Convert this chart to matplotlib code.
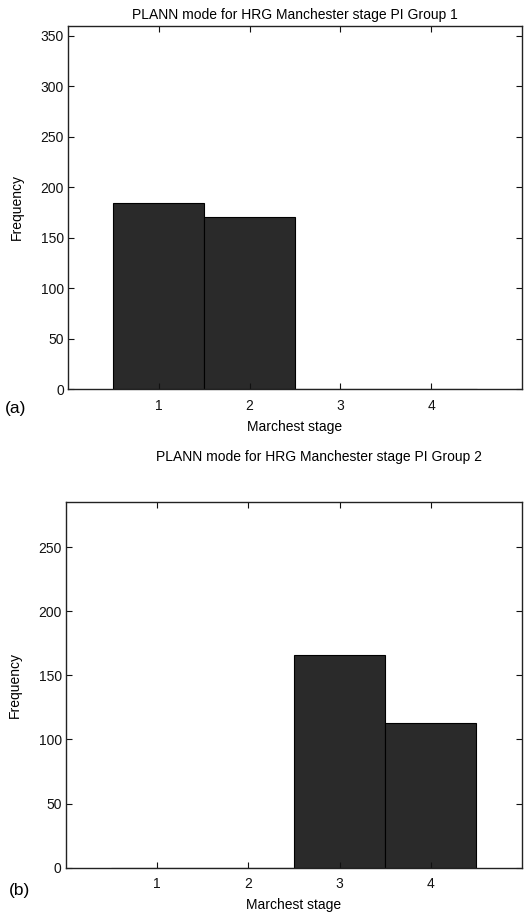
import matplotlib
matplotlib.use("Agg")
import matplotlib.pyplot as plt

plt.rcParams['font.family'] = ['Liberation Sans', 'DejaVu Sans']

stages = [1, 2, 3, 4]
group1_counts = [184, 171, 0, 0]
group2_counts = [0, 0, 166, 113]
group1_yticks = [0, 50, 100, 150, 200, 250, 300, 350]
group2_yticks = [0, 50, 100, 150, 200, 250]

bar_color = '#2a2a2a'

fig = plt.figure(figsize=(5.31, 9.22), dpi=100)

ax1 = fig.add_axes([0.128, 0.578, 0.855, 0.394])
ax2 = fig.add_axes([0.124, 0.059, 0.859, 0.396])


def style(ax, yticks, ymax):
    ax.set_xlim(0, 5)
    ax.set_ylim(0, ymax)
    ax.set_xticks(stages)
    ax.set_yticks(yticks)
    ax.tick_params(direction='in', length=4, width=0.8, top=True, right=True,
                   labelsize=10, colors='#111111')
    ax.tick_params(axis='x', pad=7)
    ax.tick_params(axis='y', pad=3)
    for s in ax.spines.values():
        s.set_linewidth(1.0)
        s.set_color('#222222')
    ax.set_xlabel('Marchest stage', fontsize=10, labelpad=5)
    ax.set_ylabel('Frequency', fontsize=10, labelpad=12)


ax1.bar(stages, group1_counts, width=1.0, color=bar_color, edgecolor='black', linewidth=0.8)
style(ax1, group1_yticks, 360)
ax1.set_title('PLANN mode for HRG Manchester stage PI Group 1', fontsize=10, pad=5)

ax2.bar(stages, group2_counts, width=1.0, color=bar_color, edgecolor='black', linewidth=0.8)
style(ax2, group2_yticks, 285)
fig.text(319 / 531, 1 - 457 / 922, 'PLANN mode for HRG Manchester stage PI Group 2',
         fontsize=10, ha='center', va='center')

fig.text(5 / 531, 1 - 409 / 922, '(a)', fontsize=12.5, ha='left', va='center')
fig.text(9 / 531, 1 - 890 / 922, '(b)', fontsize=12.5, ha='left', va='center')

fig.savefig('out.png', dpi=100)
